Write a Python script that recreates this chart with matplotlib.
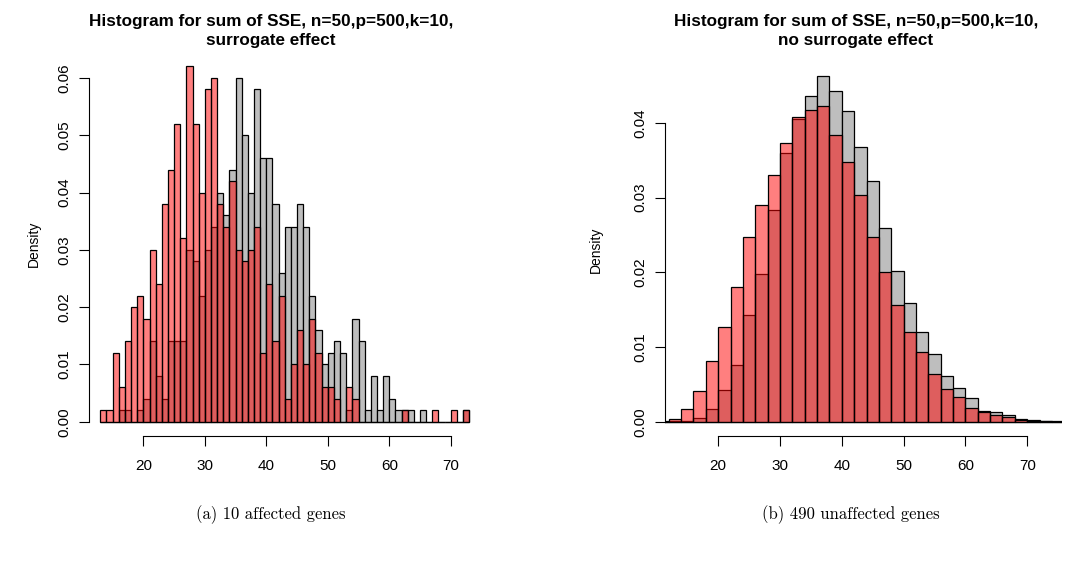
import numpy as np
import matplotlib
matplotlib.use("Agg")
import matplotlib.pyplot as plt

plt.rcParams['font.family'] = ['Liberation Sans', 'DejaVu Sans']

# affected genes: densities for unit-width bins starting at 13, 14, ..., 72
left_bins = list(range(13, 73))
left_no_surrogate = [
    0.000, 0.000, 0.000, 0.002, 0.002, 0.000, 0.002, 0.004, 0.014, 0.008,
    0.004, 0.014, 0.014, 0.014, 0.030, 0.028, 0.022, 0.030, 0.034, 0.040,
    0.036, 0.044, 0.060, 0.050, 0.040, 0.058, 0.046, 0.046, 0.038, 0.026,
    0.034, 0.034, 0.038, 0.034, 0.022, 0.016, 0.010, 0.012, 0.014, 0.012,
    0.002, 0.018, 0.014, 0.002, 0.008, 0.002, 0.008, 0.004, 0.002, 0.002,
    0.002, 0.000, 0.002, 0.000, 0.000, 0.000, 0.000, 0.000, 0.000, 0.002,
]
left_surrogate = [
    0.002, 0.002, 0.012, 0.006, 0.014, 0.020, 0.022, 0.018, 0.030, 0.024,
    0.038, 0.044, 0.052, 0.032, 0.062, 0.052, 0.040, 0.058, 0.060, 0.038,
    0.034, 0.042, 0.030, 0.028, 0.030, 0.034, 0.012, 0.024, 0.014, 0.022,
    0.004, 0.010, 0.016, 0.010, 0.018, 0.012, 0.006, 0.006, 0.004, 0.000,
    0.006, 0.004, 0.000, 0.000, 0.000, 0.000, 0.000, 0.000, 0.000, 0.002,
    0.000, 0.000, 0.000, 0.000, 0.002, 0.000, 0.000, 0.002, 0.000, 0.002,
]

# unaffected genes: densities for width-2 bins starting at 10, 12, ..., 74
right_bins = list(range(10, 76, 2))
right_no_surrogate = [
    0.00005, 0.0001, 0.0002, 0.0005, 0.0017, 0.0043, 0.0077, 0.0143, 0.0198,
    0.0284, 0.0360, 0.0405, 0.0436, 0.0462, 0.0442, 0.0415, 0.0367, 0.0322,
    0.0259, 0.0202, 0.0159, 0.0120, 0.0091, 0.0061, 0.0045, 0.0032, 0.0015,
    0.0013, 0.0009, 0.0004, 0.00025, 0.0002, 0.0001,
]
right_surrogate = [
    0.0001, 0.0004, 0.0018, 0.0042, 0.0082, 0.0127, 0.0181, 0.0247, 0.0290,
    0.0330, 0.0373, 0.0408, 0.0417, 0.0422, 0.0383, 0.0348, 0.0304, 0.0248,
    0.0200, 0.0157, 0.0120, 0.0094, 0.0065, 0.0044, 0.0033, 0.0019, 0.0014,
    0.0009, 0.0007, 0.0003, 0.0002, 0.0001, 0.00005,
]

titles = [
    "Histogram for sum of SSE, n=50,p=500,k=10,\nsurrogate effect",
    "Histogram for sum of SSE, n=50,p=500,k=10,\nno surrogate effect",
]
captions = ["(a) 10 affected genes", "(b) 490 unaffected genes"]

GRAY = "#BEBEBE"
RED = (1.0, 0.0, 0.0, 0.5)

fig = plt.figure(figsize=(10.78, 5.65), dpi=100)
ax1 = fig.add_axes([0.0828, 0.2283, 0.3627, 0.6814])
ax2 = fig.add_axes([0.6169, 0.2283, 0.3681, 0.6605])


def draw_hist(ax, edges, width, gray, red, xlim, ylim, ymax_tick, label_x):
    ax.bar(edges, gray, width=width, align='edge', facecolor=GRAY,
           edgecolor='black', linewidth=0.9)
    ax.bar(edges, red, width=width, align='edge', facecolor=RED,
           edgecolor='black', linewidth=0.9)
    ax.set_xlim(*xlim)
    ax.set_ylim(*ylim)
    for side in ('top', 'right'):
        ax.spines[side].set_visible(False)
    ax.spines['left'].set_bounds(0, ymax_tick)
    ax.spines['bottom'].set_bounds(20, 70)
    ax.spines['left'].set_linewidth(0.8)
    ax.spines['bottom'].set_linewidth(0.8)
    ax.set_xticks([20, 30, 40, 50, 60, 70])
    yt = np.arange(0, ymax_tick + 1e-9, 0.01)
    ax.set_yticks(yt)
    ax.set_yticklabels(["%.2f" % v for v in yt])
    ax.tick_params(length=7, width=0.8, labelsize=11)
    ax.tick_params(axis='x', pad=9.5)
    ax.tick_params(axis='y', pad=6)
    for lab in ax.get_yticklabels():
        lab.set_rotation(90)
        lab.set_va('center')
    ax.set_ylabel("Density", fontsize=10)
    ax.yaxis.set_label_coords(label_x, 0.5)


draw_hist(ax1, left_bins, 1, left_no_surrogate, left_surrogate,
          (11.2, 74.8), (-0.0025, 0.0647), 0.06, -0.1235)
draw_hist(ax2, right_bins, 2, right_no_surrogate, right_surrogate,
          (11.4, 75.6), (-0.00185, 0.0480), 0.04, -0.156)

fig.text(271 / 1078, 1 - 31 / 565, titles[0], ha='center', va='center',
         fontsize=12.3, fontweight='bold', linespacing=1.33)
fig.text(856 / 1078, 1 - 31 / 565, titles[1], ha='center', va='center',
         fontsize=12.3, fontweight='bold', linespacing=1.33)

fig.text(271 / 1078, 1 - 515 / 565, captions[0], ha='center', va='center',
         fontsize=12, family='cmr10')
fig.text(851 / 1078, 1 - 515 / 565, captions[1], ha='center', va='center',
         fontsize=12, family='cmr10')

fig.savefig("out.png", dpi=100)
